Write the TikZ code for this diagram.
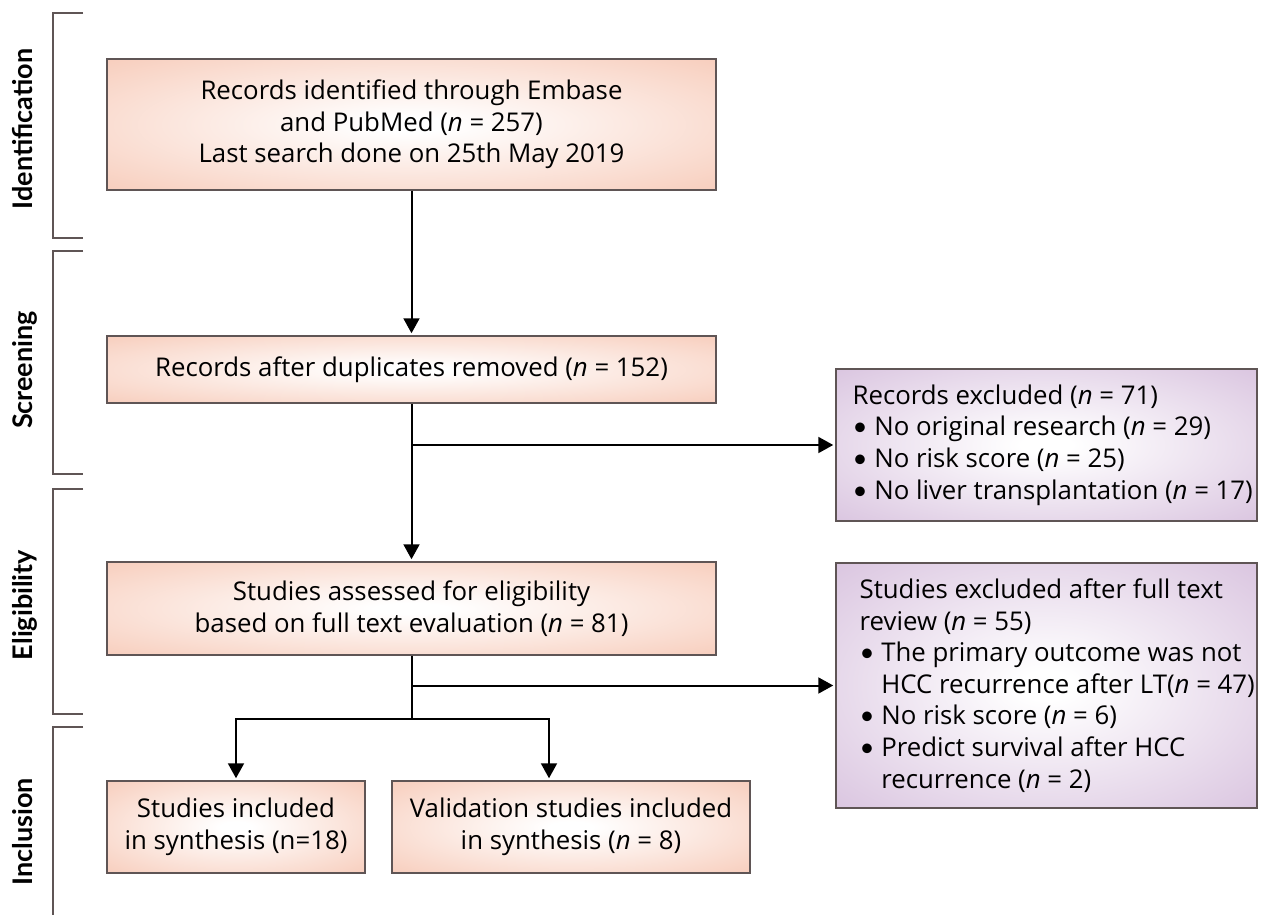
\documentclass[tikz,border=0pt]{standalone}
\usepackage{fontspec}
\setmainfont{Open Sans}
\newfontfamily\phasefont{Lato}
\usetikzlibrary{arrows.meta}
\definecolor{boxsalmon}{RGB}{246,196,176}
\definecolor{boxlilac}{RGB}{211,186,218}
\definecolor{boxedge}{RGB}{95,85,85}
\pgfdeclareradialshading{salmonglow}{\pgfpoint{0bp}{0bp}}{color(0bp)=(white); color(3bp)=(white); color(42bp)=(boxsalmon); color(50bp)=(boxsalmon)}
\pgfdeclareradialshading{lilacglow}{\pgfpoint{0bp}{0bp}}{color(0bp)=(white); color(3bp)=(white); color(42bp)=(boxlilac); color(50bp)=(boxlilac)}
\tikzset{every picture/.style={line width=0.75pt}}
\newcommand{\bodyfont}{\fontsize{25.8}{31.6}\selectfont}
\newcommand{\bul}{{\phasefont •}}

\begin{document}
\begin{tikzpicture}[x=1pt,y=1pt,yscale=-1,xscale=1,
  flowbox/.style={draw=boxedge, line width=1.5pt, shading=salmonglow, inner sep=0pt, align=center, font=\bodyfont},
  exclbox/.style={draw=boxedge, line width=1.5pt, shading=lilacglow, inner sep=0pt},
  excltext/.style={anchor=west, inner sep=0pt, align=left, font=\bodyfont},
  phase/.style={rotate=90, anchor=base, inner sep=0pt, font=\phasefont\fontsize{27}{30}\selectfont\bfseries},
  bracket/.style={draw=boxedge, line width=1.5pt},
  arr/.style={line width=2pt, -{Triangle[width=16pt,length=15pt]}, shorten >=2pt},
  link/.style={line width=2pt}]
\useasboundingbox (0,0) rectangle (1262,915);

%Shape: Bracket [id:phase brackets]
\draw[bracket] (83,13) -- (53,13) -- (53,238) -- (83,238);
\draw[bracket] (83,251) -- (53,251) -- (53,474) -- (83,474);
\draw[bracket] (83,489) -- (53,489) -- (53,714) -- (83,714);
\draw[bracket] (83,727) -- (53,727) -- (53,915);

% Text Node
\node[phase] (lblident) at (32,129) {Identification};
% Text Node
\node[phase] (lblscreen) at (32,370) {Screening};
% Text Node
\node[phase] (lblelig) at (32,605) {Eligibility};
% Text Node
\node[phase] (lblincl) at (32,832) {Inclusion};

%Shape: Rectangle [id:main flow]
\node[flowbox, minimum width=609pt, minimum height=131pt] (ident) at (411.5,124.5) {Records identified through Embase\\and PubMed (\textit{n} = 257)\\Last search done on 25th May 2019};
\node[flowbox, minimum width=609pt, minimum height=67pt] (screen) at (411.5,369.5) {Records after duplicates removed (\textit{n} = 152)};
\node[flowbox, minimum width=609pt, minimum height=93pt] (elig) at (411.5,608.5) {Studies assessed for eligibility\\based on full text evaluation (\textit{n} = 81)};
\node[flowbox, minimum width=258pt, minimum height=92pt] (inclA) at (236,827) {Studies included\\in synthesis (n=18)};
\node[flowbox, minimum width=358pt, minimum height=92pt] (inclB) at (571,827) {Validation studies included\\in synthesis (\textit{n} = 8)};

%Shape: Rectangle [id:exclusions]
\node[exclbox, minimum width=421pt, minimum height=152pt] (exclA) at (1046.5,445) {};
\node[exclbox, minimum width=421pt, minimum height=245pt] (exclB) at (1046.5,685.5) {};
% Text Node
\node[excltext] (exclAtext) at ([xshift=17pt]exclA.west) {Records excluded (\textit{n} = 71)\\
\bul{} No original research (\textit{n} = 29)\\
\bul{} No risk score (\textit{n} = 25)\\
\bul{} No liver transplantation (\textit{n} = 17)};
% Text Node
\node[excltext] (exclBtext) at ([xshift=24pt]exclB.west) {Studies excluded after full text\\
review (\textit{n} = 55)\\
\bul{} The primary outcome was not\\
\phantom{\bul{} }HCC recurrence after LT(\textit{n} = 47)\\
\bul{} No risk score (\textit{n} = 6)\\
\bul{} Predict survival after HCC\\
\phantom{\bul{} }recurrence (\textit{n} = 2)};

%Straight Lines [id:connectors]
\coordinate (split) at (elig.south |- 0,719);
\draw[arr] (ident) -- (screen);
\draw[arr] (screen) -- (elig);
\draw[arr] (screen.south |- exclA.west) -- (exclA.west);
\draw[link] (elig.south) -- (split);
\draw[arr] (elig.south |- exclB.west) -- (exclB.west);
\draw[arr] (split) -| (inclA.north);
\draw[arr] (split) -| ([xshift=-22pt]inclB.north);
\end{tikzpicture}
\end{document}
